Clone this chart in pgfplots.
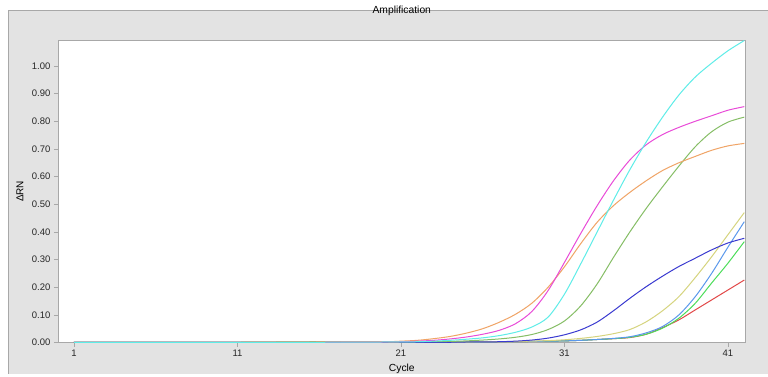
\documentclass[border=0pt]{standalone}
\usepackage{pgfplots}
\pgfplotsset{compat=1.18}
\usepackage{pgfplotstable}
\usepackage{fontspec}
\setmainfont{Liberation Sans}
\definecolor{panel}{HTML}{E3E3E3}
\definecolor{frame}{HTML}{A8A8A8}
\definecolor{ccyan}{HTML}{5EEDE8}
\definecolor{cmag}{HTML}{E94BD8}
\definecolor{cora}{HTML}{F0A466}
\definecolor{colv}{HTML}{86BE66}
\definecolor{cblu}{HTML}{3A3AD0}
\definecolor{cyel}{HTML}{D6D47E}
\definecolor{clbl}{HTML}{5A98EC}
\definecolor{cgrn}{HTML}{4CDD5A}
\definecolor{cred}{HTML}{E24848}
\pgfplotstableread{
cyc cyan mag ora olv blu yel lbl grn red
1  0.001 0.001 0.001 0.001 0.001 0.001 0.001 0.001 0.001
6  0.001 0.001 0.001 0.001 0.001 0.001 0.001 0.001 0.001
11 0.001 0.001 0.001 0.001 0.001 0.001 0.001 0.001 0.001
16 0.001 0.001 0.002 0.003 0.001 0.001 0.001 0.001 0.001
20 0.002 0.002 0.003 0.002 0.001 0.001 0.001 0.001 0.001
21 0.002 0.003 0.005 0.002 0.001 0.001 0.001 0.001 0.001
22 0.003 0.005 0.008 0.003 0.001 0.001 0.001 0.001 0.001
23 0.005 0.008 0.014 0.003 0.001 0.002 0.002 0.002 0.002
24 0.008 0.013 0.022 0.004 0.001 0.002 0.002 0.002 0.002
25 0.012 0.020 0.034 0.006 0.002 0.002 0.002 0.002 0.002
26 0.017 0.030 0.050 0.009 0.002 0.003 0.002 0.002 0.002
27 0.025 0.044 0.073 0.013 0.003 0.003 0.003 0.003 0.003
28 0.037 0.068 0.102 0.019 0.005 0.004 0.003 0.003 0.003
29 0.056 0.112 0.142 0.029 0.009 0.005 0.004 0.004 0.004
30 0.092 0.188 0.200 0.047 0.016 0.007 0.005 0.005 0.005
31 0.175 0.290 0.274 0.078 0.028 0.010 0.006 0.006 0.006
32 0.285 0.395 0.358 0.133 0.046 0.015 0.008 0.008 0.008
33 0.400 0.495 0.435 0.212 0.074 0.022 0.011 0.011 0.011
34 0.515 0.585 0.495 0.308 0.115 0.032 0.015 0.014 0.014
35 0.625 0.660 0.543 0.400 0.160 0.047 0.021 0.019 0.018
36 0.725 0.715 0.585 0.485 0.202 0.075 0.035 0.030 0.030
37 0.815 0.752 0.622 0.563 0.240 0.115 0.058 0.052 0.054
38 0.895 0.778 0.650 0.638 0.275 0.166 0.100 0.088 0.082
39 0.960 0.800 0.673 0.708 0.305 0.235 0.166 0.142 0.118
40 1.010 0.820 0.695 0.762 0.335 0.310 0.250 0.215 0.154
41 1.055 0.840 0.711 0.797 0.360 0.390 0.345 0.287 0.190
42 1.092 0.853 0.720 0.815 0.377 0.470 0.437 0.365 0.226
}\amp
\begin{document}
\begin{tikzpicture}[x=1pt,y=1pt]
\fill[white] (-58,-31) rectangle (710,343);
\fill[panel] (-50,-31) rectangle (710,333);
\draw[frame,line width=0.8pt] (-50,-31) -- (-50,333) -- (710,333);
\begin{axis}[
  at={(0,0)}, anchor=south west,
  scale only axis, width=688pt, height=303pt,
  xmin=0.02, xmax=42.08, ymin=-0.001, ymax=1.094,
  axis background/.style={fill=white},
  axis line style={frame, line width=0.8pt},
  tick align=outside, major tick length=4pt,
  tick style={frame, line width=0.6pt},
  xtick={1,11,21,31,41},
  ytick={0,0.1,0.2,0.3,0.4,0.5,0.6,0.7,0.8,0.9,1.0},
  yticklabel style={/pgf/number format/.cd, fixed, fixed zerofill, precision=2, /tikz/.cd},
  /pgf/number format/assume math mode=true,
  ticklabel style={font=\fontsize{9.5}{11}\selectfont, text=black!85},
  xtick pos=bottom, ytick pos=left,
  title={Amplification},
  title style={at={(axis description cs:0.5,1)}, anchor=center, yshift=23pt, font=\fontsize{10.3}{12}\selectfont},
  xlabel={Cycle},
  xlabel style={at={(axis description cs:0.5,0)}, anchor=center, yshift=-26pt, font=\fontsize{10.3}{12}\selectfont},
  ylabel={ΔRN},
  ylabel style={at={(axis description cs:-0.0552,0.5)}, anchor=center, font=\fontsize{10}{12}\selectfont},
  every axis plot/.append style={line width=1pt, smooth, no markers},
  clip=true,
]
\addplot[cred] table[x=cyc,y=red] {\amp};
\addplot[cgrn] table[x=cyc,y=grn] {\amp};
\addplot[clbl] table[x=cyc,y=lbl] {\amp};
\addplot[cyel] table[x=cyc,y=yel] {\amp};
\addplot[cblu] table[x=cyc,y=blu] {\amp};
\addplot[colv] table[x=cyc,y=olv] {\amp};
\addplot[cora] table[x=cyc,y=ora] {\amp};
\addplot[cmag] table[x=cyc,y=mag] {\amp};
\addplot[ccyan] table[x=cyc,y=cyan] {\amp};
\end{axis}
\end{tikzpicture}
\end{document}
